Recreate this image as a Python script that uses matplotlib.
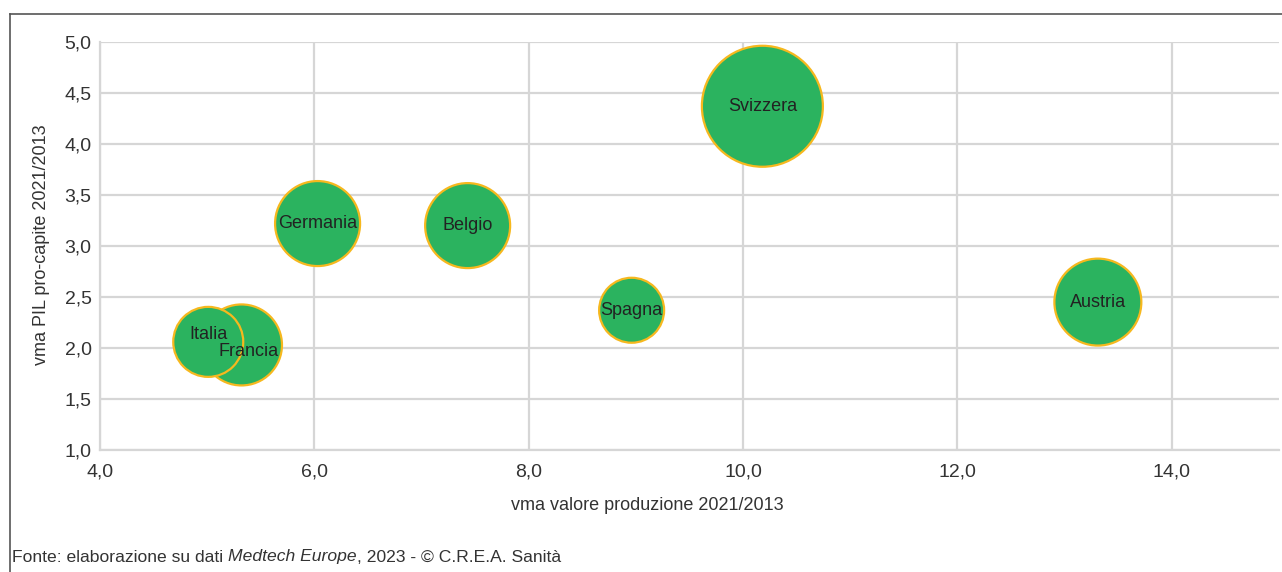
import matplotlib.pyplot as plt
from matplotlib.lines import Line2D
import numpy as np

plt.rcParams['font.family'] = ['Liberation Sans', 'DejaVu Sans']

# dati
paesi = ['Svizzera', 'Austria', 'Germania', 'Belgio', 'Spagna', 'Francia', 'Italia']
vma_produzione = [10.18, 13.31, 6.03, 7.43, 8.96, 5.32, 5.01]
vma_pil = [4.37, 2.45, 3.22, 3.20, 2.37, 2.03, 2.06]
dimensione = [3660, 1890, 1806, 1806, 1056, 1640, 1225]

xticks = [4, 6, 8, 10, 12, 14]
yticks = [1.0, 1.5, 2.0, 2.5, 3.0, 3.5, 4.0, 4.5, 5.0]

verde = '#2bb35f'
oro = '#f6b81e'
griglia = '#d6d6d6'
testo = '#333333'

fig = plt.figure(figsize=(12.82, 5.72), dpi=100)
ax = fig.add_axes([100 / 1282, 1 - 450 / 572, 1179 / 1282, 408 / 572])

ax.set_xlim(4, 15)
ax.set_ylim(1, 5)
ax.set_xticks(xticks)
ax.set_yticks(yticks)
ax.set_xticklabels([('%.1f' % v).replace('.', ',') for v in xticks])
ax.set_yticklabels([('%.1f' % v).replace('.', ',') for v in yticks])
ax.tick_params(length=0, labelsize=14, colors=testo, pad=6)
ax.tick_params(axis='x', pad=10)
ax.grid(True, color=griglia, linewidth=1.6)
ax.set_axisbelow(True)
for s in ['top', 'right']:
    ax.spines[s].set_visible(False)
for s in ['left', 'bottom']:
    ax.spines[s].set_color(griglia)
    ax.spines[s].set_linewidth(1.6)

# bolle: area proporzionale alla dimensione (px^2 -> pt^2)
s = np.array(dimensione) * (2 * 0.72) ** 2
ax.scatter(vma_produzione, vma_pil, s=s, c=verde, edgecolors=oro, linewidths=1.6, zorder=3)

# piccoli spostamenti delle etichette (in punti) come nell'originale
spost = {'Francia': (5, -5), 'Italia': (0, 5)}
for p, x, y in zip(paesi, vma_produzione, vma_pil):
    ax.annotate(p, (x, y), xytext=spost.get(p, (0, 0)), textcoords='offset points',
                ha='center', va='center', fontsize=13, color='#222222', zorder=4)

fig.text(647 / 1282, 1 - 505 / 572, 'vma valore produzione 2021/2013', ha='center', va='center',
         fontsize=13, color=testo)
fig.text(42 / 1282, 1 - 245 / 572, 'vma PIL pro-capite 2021/2013', ha='center', va='center',
         rotation=90, fontsize=13, color=testo)

# cornice
fig.add_artist(Line2D([10 / 1282, 10 / 1282], [0, 1 - 14 / 572], color='#555555', lw=1.2))
fig.add_artist(Line2D([10 / 1282, 1], [1 - 14 / 572, 1 - 14 / 572], color='#555555', lw=1.2))

# fonte con parte in corsivo
pezzi = [('Fonte: elaborazione su dati ', 'normal'), ('Medtech Europe', 'italic'),
         (', 2023 - © C.R.E.A. Sanità', 'normal')]
fig.canvas.draw()
r = fig.canvas.get_renderer()
x0 = 12
for t, st in pezzi:
    tt = fig.text(x0 / 1282, 1 - 557 / 572, t, ha='left', va='center', fontsize=12.6,
                  style=st, color=testo)
    x0 += tt.get_window_extent(renderer=r).width

fig.savefig('out.png', dpi=100)
